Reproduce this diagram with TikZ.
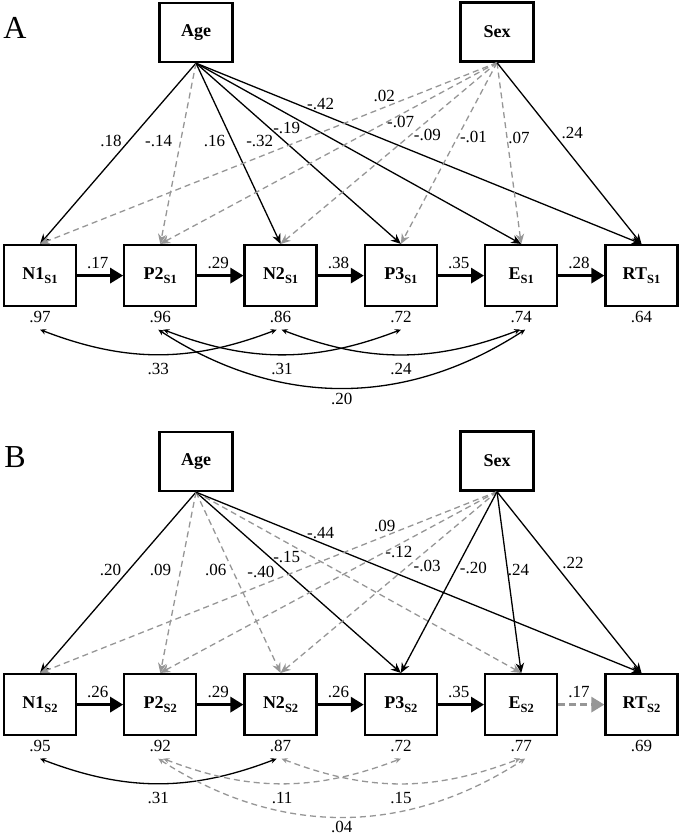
\documentclass[tikz,border=0pt]{standalone}
\usepackage{fontspec}
\setmainfont{Liberation Serif}
\usetikzlibrary{positioning,arrows.meta}
\definecolor{pathgray}{RGB}{150,150,150}
\newcommand{\coeffont}{\fontsize{17}{19}\selectfont}
\newcommand{\boxfont}{\fontsize{18}{20}\selectfont\bfseries}
\newcommand{\subl}[1]{\raisebox{-4pt}{\fontsize{12.5}{13}\selectfont\bfseries #1}}
\tikzstyle{obox}=[rectangle, draw=black, line width=2.3pt, minimum width=72pt, minimum height=61pt, inner sep=0pt, font=\boxfont]
\tikzstyle{xbox}=[obox, minimum width=73pt, minimum height=59pt]
\tikzstyle{coef}=[font=\coeffont, inner sep=1pt]
\tikzstyle{sline}=[-{Stealth[length=10pt,width=8.5pt]}, line width=1.3pt]
\tikzstyle{dline}=[sline, draw=pathgray, dash pattern=on 6pt off 4pt]
\tikzstyle{bline}=[-{Triangle[length=13pt,width=15pt]}, line width=3pt]
\tikzstyle{cline}=[{Stealth[length=6pt,width=5.5pt]}-{Stealth[length=6pt,width=5.5pt]}, line width=1.3pt]
\tikzstyle{cdline}=[cline, draw=pathgray, dash pattern=on 6pt off 4pt]

\begin{document}
\begin{tikzpicture}[x=1pt, y=1pt]
\useasboundingbox (0,0) rectangle (680,-836);
%% panel A
\node (labA) [font=\fontsize{32}{32}\selectfont] at (15,-28) {A};
\node (ageA) [xbox] at (196,-32.5) {Age};
\node (sexA) [xbox] at (497,-32) {Sex};
\node (n1A) [obox] at (40,-275.6) {N1\subl{S1}};
\node (p2A) [obox, right=46pt of n1A] {P2\subl{S1}};
\node (n2A) [obox, right=46pt of p2A] {N2\subl{S1}};
\node (p3A) [obox, right=46pt of n2A] {P3\subl{S1}};
\node (eA) [obox, right=46pt of p3A] {E\subl{S1}};
\node (rtA) [obox, right=46pt of eA] {RT\subl{S1}};
\node (vn1A) [coef, below=2.5pt of n1A] {.97};
\node (vp2A) [coef, below=2.5pt of p2A] {.96};
\node (vn2A) [coef, below=2.5pt of n2A] {.86};
\node (vp3A) [coef, below=2.5pt of p3A] {.72};
\node (veA) [coef, below=2.5pt of eA] {.74};
\node (vrtA) [coef, below=2.5pt of rtA] {.64};
% age and sex paths
\draw[sline] (ageA.south) -- node[coef, pos=.43, xshift=-18pt] {.18} (n1A.north);
\draw[dline] (ageA.south) -- node[coef, pos=.43, xshift=-22pt] {-.14} (p2A.north);
\draw[sline] (ageA.south) -- node[coef, pos=.43, xshift=-18pt] {.16} (n2A.north);
\draw[sline] (ageA.south) -- node[coef, pos=.433, xshift=-25pt] {-.32} (p3A.north);
\draw[sline] (ageA.south) -- node[coef, pos=.356, xshift=-25pt] {-.19} (eA.north);
\draw[sline] (ageA.south) -- node[coef, pos=.228, xshift=23pt] {-.42} (rtA.north);
\draw[dline] (sexA.south) -- node[coef, pos=.183, xshift=-29pt] {.02} (n1A.north);
\draw[dline] (sexA.south) -- node[coef, pos=.328, xshift=14pt] {-.07} (p2A.north);
\draw[dline] (sexA.south) -- node[coef, pos=.40, xshift=17pt] {-.09} (n2A.north);
\draw[dline] (sexA.south) -- node[coef, pos=.411, xshift=16pt] {-.01} (p3A.north);
\draw[dline] (sexA.south) -- node[coef, pos=.417, xshift=12pt] {.07} (eA.north);
\draw[sline] (sexA.south) -- node[coef, pos=.389, xshift=19pt] {.24} (rtA.north);
% chain
\draw[bline] (n1A) -- node[coef, pos=.45, above=4.5pt] {.17} (p2A);
\draw[bline] (p2A) -- node[coef, pos=.45, above=4.5pt] {.29} (n2A);
\draw[bline] (n2A) -- node[coef, pos=.45, above=4.5pt] {.38} (p3A);
\draw[bline] (p3A) -- node[coef, pos=.45, above=4.5pt] {.35} (eA);
\draw[bline] (eA) -- node[coef, pos=.45, above=4.5pt] {.28} (rtA);
% residual correlations
\draw[cline] ([yshift=-6pt]vn1A.south) to[bend right=21] node[coef, below=7pt] {.33} ([xshift=-4pt,yshift=-6pt]vn2A.south);
\draw[cline] ([xshift=3pt,yshift=-6pt]vp2A.south) to[bend right=21] node[coef, below=7pt] {.31} ([yshift=-6pt]vp3A.south);
\draw[cline] ([xshift=1pt,yshift=-6pt]vn2A.south) to[bend right=21] node[coef, below=7pt] {.24} ([xshift=-1pt,yshift=-6pt]veA.south);
\draw[cline] ([xshift=-2pt,yshift=-6pt]vp2A.south) to[bend right=33] node[coef, below=3pt] {.20} ([xshift=4pt,yshift=-6pt]veA.south);

%% panel B
\begin{scope}[yshift=-429pt]
\node (labB) [font=\fontsize{32}{32}\selectfont] at (15,-28) {B};
\node (ageB) [xbox] at (196,-32.5) {Age};
\node (sexB) [xbox] at (497,-32) {Sex};
\node (n1B) [obox] at (40,-275.6) {N1\subl{S2}};
\node (p2B) [obox, right=46pt of n1B] {P2\subl{S2}};
\node (n2B) [obox, right=46pt of p2B] {N2\subl{S2}};
\node (p3B) [obox, right=46pt of n2B] {P3\subl{S2}};
\node (eB) [obox, right=46pt of p3B] {E\subl{S2}};
\node (rtB) [obox, right=46pt of eB] {RT\subl{S2}};
\node (vn1B) [coef, below=2.5pt of n1B] {.95};
\node (vp2B) [coef, below=2.5pt of p2B] {.92};
\node (vn2B) [coef, below=2.5pt of n2B] {.87};
\node (vp3B) [coef, below=2.5pt of p3B] {.72};
\node (veB) [coef, below=2.5pt of eB] {.77};
\node (vrtB) [coef, below=2.5pt of rtB] {.69};
% age and sex paths
\draw[sline] (ageB.south) -- node[coef, pos=.433, xshift=-18pt] {.20} (n1B.north);
\draw[dline] (ageB.south) -- node[coef, pos=.433, xshift=-20pt] {.09} (p2B.north);
\draw[dline] (ageB.south) -- node[coef, pos=.433, xshift=-17pt] {.06} (n2B.north);
\draw[sline] (ageB.south) -- node[coef, pos=.439, xshift=-25pt] {-.40} (p3B.north);
\draw[dline] (ageB.south) -- node[coef, pos=.356, xshift=-25pt] {-.15} (eB.north);
\draw[sline] (ageB.south) -- node[coef, pos=.228, xshift=23pt] {-.44} (rtB.north);
\draw[dline] (sexB.south) -- node[coef, pos=.189, xshift=-26pt] {.09} (n1B.north);
\draw[dline] (sexB.south) -- node[coef, pos=.333, xshift=14pt] {-.12} (p2B.north);
\draw[dline] (sexB.south) -- node[coef, pos=.411, xshift=19pt] {-.03} (n2B.north);
\draw[sline] (sexB.south) -- node[coef, pos=.422, xshift=17pt] {-.20} (p3B.north);
\draw[sline] (sexB.south) -- node[coef, pos=.433, xshift=11pt] {.24} (eB.north);
\draw[sline] (sexB.south) -- node[coef, pos=.394, xshift=19pt] {.22} (rtB.north);
% chain
\draw[bline] (n1B) -- node[coef, pos=.45, above=4.5pt] {.26} (p2B);
\draw[bline] (p2B) -- node[coef, pos=.45, above=4.5pt] {.29} (n2B);
\draw[bline] (n2B) -- node[coef, pos=.45, above=4.5pt] {.26} (p3B);
\draw[bline] (p3B) -- node[coef, pos=.45, above=4.5pt] {.35} (eB);
\draw[bline, draw=pathgray, dash pattern=on 7pt off 4pt] (eB) -- node[coef, pos=.45, above=4.5pt] {.17} (rtB);
% residual correlations
\draw[cline] ([yshift=-6pt]vn1B.south) to[bend right=21] node[coef, below=7pt] {.31} ([xshift=-4pt,yshift=-6pt]vn2B.south);
\draw[cdline] ([xshift=3pt,yshift=-6pt]vp2B.south) to[bend right=21] node[coef, below=7pt] {.11} ([yshift=-6pt]vp3B.south);
\draw[cdline] ([xshift=1pt,yshift=-6pt]vn2B.south) to[bend right=21] node[coef, below=7pt] {.15} ([xshift=-1pt,yshift=-6pt]veB.south);
\draw[cdline] ([xshift=-2pt,yshift=-6pt]vp2B.south) to[bend right=33] node[coef, below=3pt] {.04} ([xshift=4pt,yshift=-6pt]veB.south);
\end{scope}
\end{tikzpicture}
\end{document}
